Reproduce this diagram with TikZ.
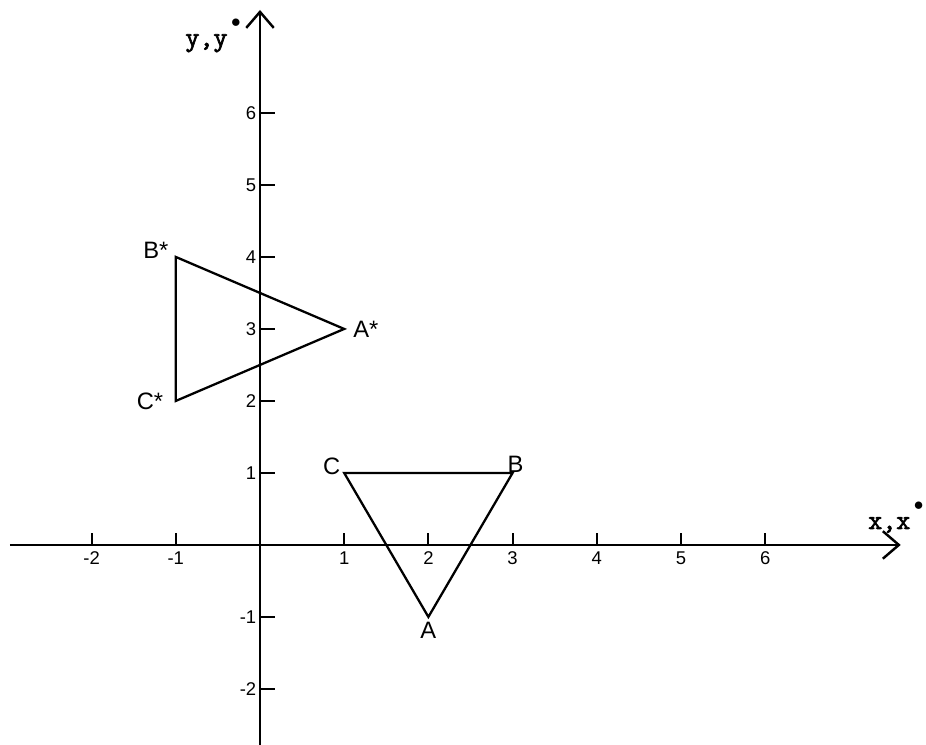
\documentclass[tikz,border=0pt]{standalone}
\usepackage{fontspec}
\setmainfont{Liberation Sans}
\newfontfamily\axfont[FakeBold=2.5]{Latin Modern Mono}
\usetikzlibrary{positioning,arrows.meta}

\begin{document}
\begin{tikzpicture}[
  x=1.684cm,y=1.44cm,
  every node/.style={font=\fontsize{10.5}{12}\selectfont},
  axis/.style={line width=1.6pt,-{Straight Barb[length=3.2mm,width=5.5mm,line width=1.4pt]}},
  tick/.style={line width=1.2pt},
  tri/.style={line width=1.3pt,line join=miter},
  vlabel/.style={font=\fontsize{13.5}{15}\selectfont,inner sep=2pt},
  alabel/.style={font=\fontsize{15.5}{17}\selectfont\axfont,inner sep=0pt,anchor=base west}
 ]
  \useasboundingbox (-3.088,-2.778) rectangle (7.91,7.569);
  % axes
  \coordinate (xl) at (-2.97,0);
  \coordinate (xr) at (7.61,0);
  \coordinate (yb) at (0,-2.78);
  \coordinate (yt) at (0,7.43);
  \draw[axis] (xl) -- (xr);
  \draw[axis] (yb) -- (yt);
  \node[alabel] (xlab) at (7.22,0.222) {x,x\hspace{2pt}\raisebox{1.6ex}{$\scriptstyle\bullet$}};
  \node[alabel] (ylab) at (-0.89,6.93) {y,y\hspace{2pt}\raisebox{1.6ex}{$\scriptstyle\bullet$}};
  \foreach \x in {-2,-1,1,2,3,4,5,6} {
    \draw[tick] (\x,0) -- (\x,0.17);
    \node[below,inner sep=1pt] (tx\x) at (\x,-0.07) {\x};
  }
  \foreach \y in {-2,-1,1,2,3,4,5,6} {
    \draw[tick] (0,\y) -- (0.18,\y);
    \node[left,inner sep=1pt] (ty\y) at (-0.02,\y) {\y};
  }
  % triangles
  \coordinate (A) at (2,-1);
  \coordinate (B) at (3,1);
  \coordinate (C) at (1,1);
  \coordinate (As) at (1,3);
  \coordinate (Bs) at (-1,4);
  \coordinate (Cs) at (-1,2);
  \draw[tri] (A) -- (B) -- (C) -- cycle;
  \draw[tri] (As) -- (Bs) -- (Cs) -- cycle;
  \node[vlabel,below=1pt of A] (la) {A};
  \node[vlabel,above right=-2pt and -5pt of B] (lb) {B};
  \node[vlabel,above left=-3pt and 0pt of C] (lc) {C};
  \node[vlabel,right=3pt of As] (las) {A*};
  \node[vlabel,above left=-3pt and 2pt of Bs] (lbs) {B*};
  \node[vlabel,left=5pt of Cs] (lcs) {C*};
\end{tikzpicture}
\end{document}
